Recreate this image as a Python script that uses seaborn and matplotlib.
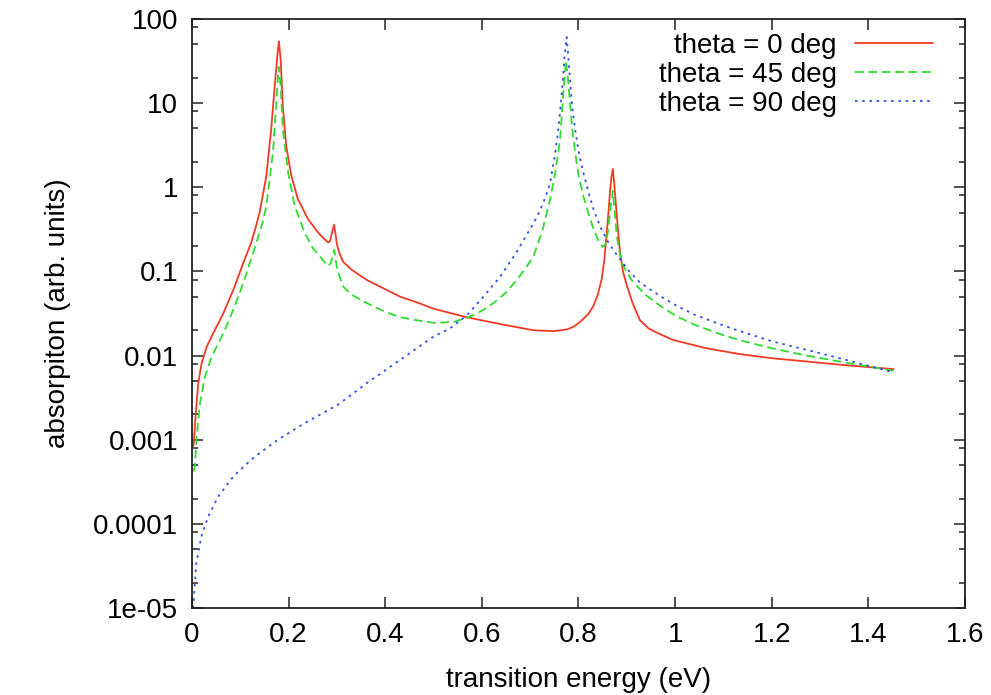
import numpy as np
import pandas as pd
import matplotlib
matplotlib.use('Agg')
import matplotlib.pyplot as plt
import matplotlib.ticker as mticker
import seaborn as sns

# values (x in eV, y in arb. units)
x_0deg = [0.002, 0.004, 0.0083, 0.013, 0.020, 0.0304, 0.044, 0.065, 0.0855, 0.106,
          0.1228, 0.131, 0.140, 0.154, 0.164, 0.1725, 0.178, 0.180, 0.1836, 0.188,
          0.195, 0.2056, 0.219, 0.240, 0.261, 0.275, 0.282, 0.286, 0.290, 0.294,
          0.297, 0.300, 0.305, 0.313, 0.33, 0.362, 0.389, 0.431, 0.47, 0.50,
          0.569, 0.6375, 0.7065, 0.748, 0.7755, 0.79, 0.803, 0.82, 0.831, 0.84,
          0.848, 0.853, 0.858, 0.862, 0.865, 0.868, 0.871, 0.874, 0.8777, 0.882,
          0.886, 0.892, 0.90, 0.912, 0.927, 0.945, 0.962, 0.996, 1.065, 1.134,
          1.2, 1.272, 1.35, 1.452]
y_0deg = [0.0008, 0.00095, 0.00225, 0.0047, 0.0081, 0.0127, 0.0184, 0.0318, 0.060, 0.125,
          0.222, 0.32, 0.50, 1.37, 4.9, 19.4, 44, 54, 33, 9.3,
          3.1, 1.37, 0.73, 0.42, 0.29, 0.24, 0.22, 0.23, 0.29, 0.36,
          0.28, 0.21, 0.165, 0.13, 0.105, 0.079, 0.066, 0.050, 0.042, 0.036,
          0.0285, 0.0237, 0.020, 0.0195, 0.0204, 0.022, 0.025, 0.031, 0.039, 0.053,
          0.081, 0.13, 0.27, 0.5, 0.87, 1.3, 1.65, 1.1, 0.60, 0.3,
          0.17, 0.10, 0.068, 0.042, 0.0264, 0.021, 0.0187, 0.0153, 0.0122, 0.0104,
          0.0093, 0.0085, 0.0077, 0.0069]

x_45deg = [0.003, 0.0062, 0.0097, 0.0166, 0.0269, 0.0408, 0.065, 0.0855, 0.106, 0.127,
           0.1366, 0.146, 0.154, 0.1677, 0.1746, 0.1794, 0.1836, 0.188, 0.199, 0.2125,
           0.233, 0.25, 0.265, 0.275, 0.282, 0.287, 0.291, 0.2946, 0.298, 0.301,
           0.306, 0.313, 0.33, 0.362, 0.40, 0.431, 0.47, 0.50, 0.541, 0.575,
           0.60, 0.624, 0.65, 0.672, 0.69, 0.7065, 0.725, 0.741, 0.752, 0.762,
           0.768, 0.774, 0.778, 0.7825, 0.787, 0.793, 0.80, 0.810, 0.82, 0.831,
           0.84, 0.850, 0.856, 0.861, 0.866, 0.871, 0.875, 0.879, 0.884, 0.889,
           0.90, 0.9135, 0.94, 0.969, 1.0, 1.038, 1.093, 1.134, 1.2, 1.272,
           1.35, 1.452]
y_45deg = [0.00042, 0.00048, 0.00109, 0.0027, 0.0056, 0.0097, 0.0184, 0.035, 0.072, 0.17,
           0.25, 0.38, 0.60, 2.6, 10, 27, 16, 4.9, 1.5, 0.60,
           0.29, 0.19, 0.15, 0.128, 0.116, 0.125, 0.15, 0.18, 0.13, 0.105,
           0.085, 0.066, 0.053, 0.042, 0.033, 0.0285, 0.026, 0.0245, 0.025, 0.029,
           0.034, 0.042, 0.056, 0.079, 0.108, 0.15, 0.30, 0.71, 1.5, 3.75,
           12, 32, 20, 10, 5, 2.6, 1.4, 0.79, 0.5, 0.32,
           0.24, 0.195, 0.21, 0.30, 0.55, 0.91, 0.50, 0.27, 0.18, 0.13,
           0.097, 0.074, 0.052, 0.039, 0.030, 0.0235, 0.018, 0.0152, 0.0122, 0.0100,
           0.0083, 0.0066]

x_90deg = [0.002, 0.004, 0.006, 0.009, 0.0193, 0.033, 0.054, 0.088, 0.13, 0.178,
           0.233, 0.302, 0.362, 0.431, 0.50, 0.534, 0.569, 0.603, 0.6375, 0.672,
           0.7065, 0.72, 0.731, 0.741, 0.750, 0.757, 0.762, 0.767, 0.771, 0.7755,
           0.779, 0.7825, 0.787, 0.793, 0.80, 0.810, 0.82, 0.831, 0.845, 0.858,
           0.872, 0.886, 0.905, 0.927, 0.95, 0.969, 1.0, 1.038, 1.093, 1.134,
           1.2, 1.272, 1.35, 1.452]
y_90deg = [1.0e-5, 1.24e-5, 2.0e-5, 3.4e-5, 7.0e-5, 1.2e-4, 2.1e-4, 3.8e-4, 6.3e-4, 1.0e-3,
           1.57e-3, 2.6e-3, 4.7e-3, 8.9e-3, 0.0168, 0.021, 0.030, 0.050, 0.086, 0.17,
           0.37, 0.52, 0.75, 1.1, 2.2, 4.2, 8, 17, 35, 61,
           35, 19, 9, 4.9, 2.7, 1.5, 0.9, 0.55, 0.34, 0.24,
           0.18, 0.14, 0.10, 0.074, 0.06, 0.051, 0.040, 0.031, 0.0235, 0.0195,
           0.0148, 0.0117, 0.0090, 0.0063]

labels = ['theta = 0 deg', 'theta = 45 deg', 'theta = 90 deg']
x_ticks = [0, 0.2, 0.4, 0.6, 0.8, 1.0, 1.2, 1.4, 1.6]
x_ticklabels = ['0', '0.2', '0.4', '0.6', '0.8', '1', '1.2', '1.4', '1.6']
y_ticks = [1e-5, 1e-4, 1e-3, 1e-2, 1e-1, 1, 10, 100]
y_ticklabels = ['1e-05', '0.0001', '0.001', '0.01', '0.1', '1', '10', '100']

sns.set_style("ticks")
plt.rcParams['font.family'] = ['Liberation Sans', 'DejaVu Sans']
plt.rcParams['text.color'] = 'black'
plt.rcParams['axes.labelcolor'] = 'black'
plt.rcParams['xtick.color'] = 'black'
plt.rcParams['ytick.color'] = 'black'

fig = plt.figure(figsize=(9.91, 6.95), dpi=100)
ax = fig.add_axes([0.1937, 0.1252, 0.7801, 0.8475])

series = [(x_0deg, y_0deg, '#f23a26', ''),
          (x_45deg, y_45deg, '#2fdc2f', (4.8, 2.6)),
          (x_90deg, y_90deg, '#3050ec', (1.4, 2.6))]
for (xs, ys, col, dash), lab in zip(series, labels):
    df = pd.DataFrame({'energy': xs, 'absorption': ys})
    sns.lineplot(data=df, x='energy', y='absorption', ax=ax, color=col,
                 linewidth=1.3, label=lab, sort=False, estimator=None)
    if dash:
        ax.lines[-1].set_dashes(dash)

ax.set_yscale('log')
ax.set_xlim(0, 1.6)
ax.set_ylim(1e-5, 100)
ax.xaxis.set_major_locator(mticker.FixedLocator(x_ticks))
ax.xaxis.set_major_formatter(mticker.FixedFormatter(x_ticklabels))
ax.yaxis.set_major_locator(mticker.FixedLocator(y_ticks))
ax.yaxis.set_major_formatter(mticker.FixedFormatter(y_ticklabels))
ax.yaxis.set_minor_locator(mticker.LogLocator(base=10, subs=[2, 5, 8]))
ax.yaxis.set_minor_formatter(mticker.NullFormatter())
ax.xaxis.set_minor_locator(mticker.NullLocator())

ax.tick_params(which='both', direction='in', top=True, right=True,
               labelsize=20, width=1.1, color='#222222')
ax.tick_params(which='major', length=8, pad=10)
ax.tick_params(which='minor', length=4)
for sp in ax.spines.values():
    sp.set_linewidth(1.3)
    sp.set_color('#222222')

ax.set_xlabel('transition energy (eV)', fontsize=20, labelpad=14)
ax.set_ylabel('absorpiton (arb. units)', fontsize=20, labelpad=16)

leg = ax.legend(loc='upper right', bbox_to_anchor=(0.958, 0.976), frameon=False,
                markerfirst=False, fontsize=20, handlelength=2.8,
                handletextpad=0.65, labelspacing=0.1, borderpad=0,
                borderaxespad=0)

fig.savefig('out.png', dpi=100)
